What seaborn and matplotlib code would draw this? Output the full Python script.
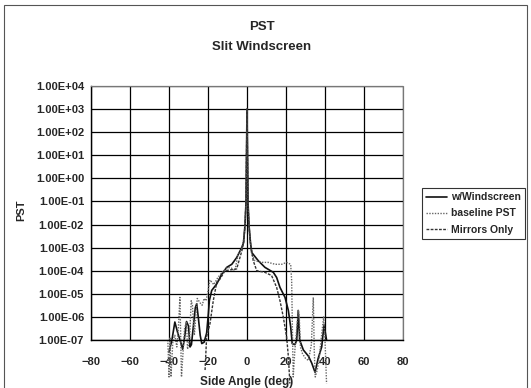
import matplotlib
matplotlib.use("Agg")
import matplotlib.pyplot as plt
import seaborn as sns
import pandas as pd
from matplotlib.patches import Rectangle
from matplotlib.ticker import FuncFormatter, FixedLocator, NullLocator

# --- data (side angle in deg, PST) ---
windscreen_x = [-40, -38.5, -37, -35.5, -34, -33, -32, -31, -30, -29.2, -28.5, -27.5,
                -26.5, -25.8, -25, -24, -23.2, -22, -20.7, -19.8, -19.3, -18.1, -15.5,
                -13, -10.4, -7.8, -5.3, -2.7, -1.8, -1.0, -0.5, -0.25, 0, 0.25, 0.5,
                1.0, 1.8, 2.4, 5.8, 9.2, 13.5, 15.2, 16.9, 19.5, 21.2, 22.4, 23.2,
                24.6, 25.5, 26.3, 27.0, 28.9, 31.5, 33.2, 34.9, 36.5, 38.3, 39.5, 40.8]
windscreen_y = [3e-8, 1e-7, 6e-7, 2e-7, 8e-8, 4e-8, 1.3e-7, 6.3e-7, 4e-7, 5e-8, 6.3e-8, 4e-7,
                2.5e-6, 3.7e-6, 1e-6, 1.6e-7, 7e-8, 8e-8, 2e-7, 1.4e-6, 5.1e-6, 1.4e-5, 2.7e-5,
                7e-5, 1.4e-4, 1.9e-4, 3.7e-4, 1e-3, 1.6e-3, 1e-2, 1e-1, 1e1, 1e3, 1e1, 1e-1,
                1e-2, 1.6e-3, 6.2e-4, 2.7e-4, 1.4e-4, 8.5e-5, 5.1e-5, 1.9e-5, 7e-6, 1.9e-6, 3.7e-7, 7e-8,
                6.3e-8, 1e-7, 1.9e-6, 1e-7, 3.7e-8, 2e-8, 1e-8, 4e-9, 1.6e-8, 5e-8, 4.5e-7, 1e-7]

baseline_x = [-40.6, -40, -39.5, -39, -38, -37, -36, -35.2, -34.4, -33.6, -33, -32, -31,
              -30.5, -29.5, -28.6, -28, -27, -26, -25.5, -24, -23, -22, -21, -20, -19,
              -17, -15, -13, -10, -8, -6.2, -4.6, -2.5, -1.6, -1.0, -0.5, -0.25, 0, 0.25,
              0.5, 1.0, 1.5, 2.5, 4.1, 7.5, 10.9, 14.4, 17.8, 20.3, 22.4, 22.9, 23.3, 23.7,
              24.5, 25.5, 26.3, 26.8, 27.4, 28.5, 30, 31.5, 33, 34, 34.5, 35, 36, 37, 38,
              39.3, 40, 40.8]
baseline_y = [1e-7, 2.5e-9, 1.3e-7, 2.5e-9, 1e-7, 1.6e-7, 5e-8, 3.2e-7, 7e-6, 2.5e-9, 1.6e-8, 3.2e-7, 6.3e-7,
              4e-8, 1e-7, 5e-6, 3.2e-6, 1.6e-7, 2e-6, 6.3e-6, 4e-6, 3.2e-6, 6.3e-6, 5e-6, 1.3e-5, 4e-5,
              2.5e-5, 5e-5, 8e-5, 1.4e-4, 1.3e-4, 1e-4, 5e-4, 1e-3, 2.5e-3, 1e-2, 1e-1, 1e1, 1e3, 1e1,
              1e-1, 1e-2, 2.5e-3, 5e-4, 2.7e-4, 2.3e-4, 2.3e-4, 1.9e-4, 1.9e-4, 2.3e-4, 1.9e-4, 3.7e-5, 2.5e-7, 2.5e-9,
              3.2e-8, 3.2e-7, 2e-6, 1e-6, 5e-8, 2.5e-8, 1.6e-8, 1.3e-8, 6.3e-8, 7e-6, 3.2e-8, 2.5e-9, 5e-9, 1.6e-8, 1e-7,
              1e-6, 1e-7, 1.3e-9]

mirrors_x = [-21.5, -20.7, -19, -17.3, -15.5, -13.8, -11.3, -5.3, -2.5, -1.6, -1.0, -0.5,
             -0.25, 0, 0.25, 0.5, 1.0, 1.6, 3.2, 5, 9.2, 12.6, 15.2, 16.9, 18.6, 20.3,
             21.2, 22]
mirrors_y = [5e-9, 1.4e-7, 5e-7, 5e-6, 3.2e-5, 4.4e-5, 1e-4, 1.2e-4, 8e-4, 2e-3, 1e-2, 1e-1,
             1e1, 1e3, 1e1, 1e-1, 1e-2, 2e-3, 2.7e-4, 1e-4, 8.5e-5, 6.2e-5, 1.9e-5, 5.1e-6, 1e-6, 1.4e-7,
             2e-8, 1.3e-9]

series_names = ["w/Windscreen", "baseline PST", "Mirrors Only"]
y_ticks = [1e-7, 1e-6, 1e-5, 1e-4, 1e-3, 1e-2, 1e-1, 1e0, 1e1, 1e2, 1e3, 1e4]
x_ticks = [-80, -60, -40, -20, 0, 20, 40, 60, 80]

sns.set_style("white")
plt.rcParams["font.family"] = ["Liberation Sans", "DejaVu Sans"]
plt.rcParams["font.weight"] = "bold"

fig = plt.figure(figsize=(5.31, 3.88), dpi=100)
ax = fig.add_axes([91 / 531, 1 - 340 / 388, 312 / 531, 254 / 388])

styles = [
    dict(color="#111111", linestyle="-", linewidth=1.2),
    dict(color="#666666", linestyle=(0, (1, 1)), linewidth=1.0),
    dict(color="#333333", linestyle=(0, (2, 1)), linewidth=1.0),
]
for name, xs, ys, st in zip(series_names,
                            [windscreen_x, baseline_x, mirrors_x],
                            [windscreen_y, baseline_y, mirrors_y], styles):
    df = pd.DataFrame({"angle": xs, "pst": ys})
    sns.lineplot(data=df, x="angle", y="pst", ax=ax, sort=False, estimator=None,
                 label=name, **st)

# curves run below the plot area in the original
for ln in ax.lines:
    ln.set_clip_on(False)

ax.set_yscale("log")
ax.set_xlim(-80, 80)
ax.set_ylim(1e-7, 1e4)
ax.xaxis.set_major_locator(FixedLocator(x_ticks))
ax.yaxis.set_major_locator(FixedLocator(y_ticks))
ax.yaxis.set_minor_locator(NullLocator())
ax.yaxis.set_major_formatter(FuncFormatter(lambda v, p: f"{v:.2E}"))
ax.grid(True, color="black", linewidth=0.9)
ax.set_axisbelow(True)
ax.tick_params(axis="both", direction="out", length=3, width=0.9, color="black",
               labelsize=8, pad=2)
for t in ax.get_xticklabels() + ax.get_yticklabels():
    t.set_fontweight("bold")
ax.tick_params(axis="x", pad=9)

for side in ["left", "bottom"]:
    ax.spines[side].set_color("black")
    ax.spines[side].set_linewidth(1.0)
for side in ["top", "right"]:
    ax.spines[side].set_color("#777777")
    ax.spines[side].set_linestyle((0, (1, 1)))
    ax.spines[side].set_linewidth(0.9)

ax.set_xlabel("")
ax.set_ylabel("")
fig.text(247 / 531, 1 - 376 / 388, "Side Angle (deg)", ha="center", va="top",
         fontsize=8.5, fontweight="bold")
fig.text(21 / 531, 1 - 210 / 388, "PST", ha="center", va="center", rotation=90,
         fontsize=8, fontweight="bold")
fig.text(262 / 531, 1 - 27 / 388, "PST", ha="center", va="center",
         fontsize=9.5, fontweight="bold")
fig.text(262 / 531, 1 - 47 / 388, "Slit Windscreen", ha="center", va="center",
         fontsize=9.5, fontweight="bold")

leg = ax.legend(loc="upper left", bbox_to_anchor=(422 / 531, 1 - 188 / 388),
                bbox_transform=fig.transFigure, frameon=True, fancybox=False,
                fontsize=7.5, handlelength=2.0, handletextpad=0.4,
                borderpad=0.4, labelspacing=0.6, borderaxespad=0)
leg.get_frame().set_edgecolor("black")
leg.get_frame().set_linewidth(0.8)
for t in leg.get_texts():
    t.set_fontweight("bold")

fig.patches.append(Rectangle((4 / 531, -0.05), 523 / 531, 1.05 - 5 / 388,
                             transform=fig.transFigure, fill=False,
                             edgecolor="#555555", linewidth=0.8))

fig.savefig("out.png", dpi=100)
